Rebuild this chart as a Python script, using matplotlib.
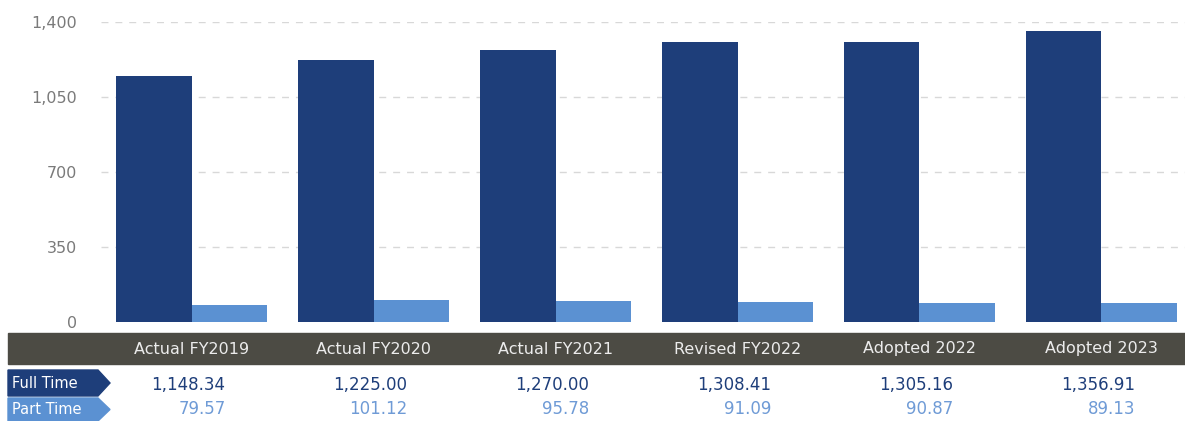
import numpy as np
import matplotlib
matplotlib.use('Agg')
import matplotlib.pyplot as plt
from matplotlib.patches import Rectangle, Polygon
from matplotlib.ticker import FuncFormatter
import matplotlib.transforms as mtransforms

# staffing data (FTE) by budget year
years = ['Actual FY2019', 'Actual FY2020', 'Actual FY2021',
         'Revised FY2022', 'Adopted 2022', 'Adopted 2023']
full_time = [1148.34, 1225.00, 1270.00, 1308.41, 1305.16, 1356.91]
part_time = [79.57, 101.12, 95.78, 91.09, 90.87, 89.13]
y_ticks = [0, 350, 700, 1050, 1400]

dark_blue = '#1e3e7a'
light_blue = '#5b91d2'
band_col = '#4c4b44'

W, H = 1185, 421
fig = plt.figure(figsize=(W / 100, H / 100), dpi=100)

# main bar axes, placed in pixel units
ax = fig.add_axes([101 / W, (H - 322) / H, (W - 101) / W, 300 / H])
x = np.arange(len(years))
bw = 0.415
ax.bar(x - bw / 2, full_time, bw, color=dark_blue, zorder=3)
ax.bar(x + bw / 2, part_time, bw, color=light_blue, zorder=3)

ax.set_xlim(-0.5, len(years) - 0.54)
ax.set_ylim(0, 1400)
ax.set_yticks(y_ticks)
ax.yaxis.set_major_formatter(FuncFormatter(lambda v, p: f'{int(v):,}'))
ax.tick_params(axis='y', length=0, pad=17, labelsize=11.5, labelcolor='#7a7a7a')
ax.tick_params(axis='x', length=0, labelbottom=False)
for s in ax.spines.values():
    s.set_visible(False)
ax.grid(axis='y', color='#d8d8d8', linestyle=(0, (5, 5)), linewidth=1, zorder=0)
ax.yaxis.get_gridlines()[0].set_visible(False)

# dark header band with year labels
fig.patches.append(Rectangle((8 / W, (H - 364) / H), 1 - 8 / W, 31 / H,
                             transform=fig.transFigure, color=band_col, zorder=1))
trans = mtransforms.blended_transform_factory(ax.transData, fig.transFigure)
for i, yr in enumerate(years):
    fig.text(i, (H - 349) / H, yr, transform=trans, ha='center', va='center',
             fontsize=11.5, color='#ececec')

# arrow-shaped row labels
def row_tag(y_top, y_bot, color, label):
    pts = [(8, y_top), (98, y_top), (110, (y_top + y_bot) / 2), (98, y_bot), (8, y_bot)]
    pts = [(px / W, (H - py) / H) for px, py in pts]
    fig.patches.append(Polygon(pts, closed=True, transform=fig.transFigure,
                               color=color, zorder=1))
    fig.text(12 / W, (H - (y_top + y_bot) / 2) / H, label, ha='left', va='center',
             fontsize=10.5, color='white')

row_tag(370, 396, dark_blue, 'Full Time')
row_tag(398, 421, light_blue, 'Part Time')

# table values, right-aligned under each group
off = 0.185
for i in range(len(years)):
    fig.text(i + off, (H - 385) / H, f'{full_time[i]:,.2f}', transform=trans,
             ha='right', va='center', fontsize=12, color=dark_blue)
    fig.text(i + off, (H - 409) / H, f'{part_time[i]:,.2f}', transform=trans,
             ha='right', va='center', fontsize=12, color='#6f9bd6')

fig.savefig('out.png', dpi=100)
